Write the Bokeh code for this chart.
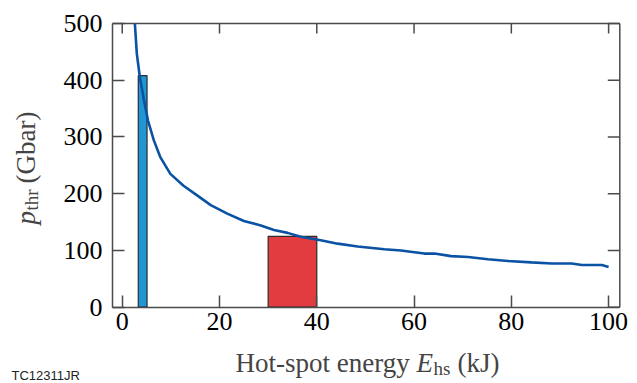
from bokeh.plotting import figure
from bokeh.models import LinearAxis, Range1d, Label, FixedTicker
from bokeh.embed import file_html
from bokeh.resources import INLINE
import math

# ---- data ----
energy_kj = [2.6, 3.0, 3.6, 4.4, 5.3, 6.5, 7.8, 9.9, 12.6, 15.4, 18.2, 21.6, 25.0, 28.5,
             31.2, 34.0, 36.7, 40.8, 44.3, 48.4, 53.9, 57.3, 62.1, 64.2, 67.6, 71.1,
             75.2, 79.3, 84.1, 88.3, 92.4, 94.5, 98.6, 100.0]
p_thr_gbar = [500, 447, 407, 368, 329, 294, 265, 235, 214, 197, 180, 165, 152, 144,
              136, 131, 124, 118, 112, 107, 102, 100, 94.5, 94.5, 90, 88.5,
              84.5, 81.5, 79, 77, 77, 74.5, 74.5, 71]

blue_bar_left, blue_bar_right, blue_bar_top = [3.3], [5.1], [408]
red_bar_left, red_bar_right, red_bar_top = [30.0], [40.0], [125]

x_ticks = [0, 20, 40, 60, 80, 100]
y_ticks = [0, 100, 200, 300, 400, 500]

# ---- layout: the frame fills the canvas, the plot box is drawn by fixed axes ----
W, H = 637, 383
BOX_PX = dict(left=112.0, right=619.3, top=23.0, bottom=306.7)
BOX_X = (-2.0, 102.3)
BOX_Y = (0.0, 500.0)
sx = (BOX_PX["right"] - BOX_PX["left"]) / (BOX_X[1] - BOX_X[0])
sy = (BOX_PX["bottom"] - BOX_PX["top"]) / (BOX_Y[1] - BOX_Y[0])
XR = (BOX_X[0] - BOX_PX["left"] / sx, BOX_X[1] + (W - BOX_PX["right"]) / sx)
YR = (BOX_Y[0] - (H - BOX_PX["bottom"]) / sy, BOX_Y[1] + BOX_PX["top"] / sy)

def dx(px):
    return XR[0] + px / sx

def dy(py):
    return YR[0] + (H - py) / sy

FRAME = "#4a4a4a"
SERIF = "Liberation Serif"
TICK_FS = "26px"

p = figure(width=W, height=H, output_backend="svg", toolbar_location=None,
           x_range=Range1d(*XR), y_range=Range1d(*YR),
           min_border=0, x_axis_location=None, y_axis_location=None)
p.grid.visible = False
p.outline_line_color = None
p.background_fill_color = "white"
p.border_fill_color = "white"

def style_axis(ax, ticks, tick_len):
    ax.ticker = FixedTicker(ticks=ticks)
    ax.major_tick_in = tick_len
    ax.major_tick_out = 0
    ax.minor_tick_line_color = None
    ax.major_tick_line_color = FRAME
    ax.major_tick_line_width = 1.5
    ax.axis_line_color = FRAME
    ax.axis_line_width = 1.5
    ax.major_label_text_font = SERIF
    ax.major_label_text_font_size = TICK_FS
    ax.major_label_text_color = "black"

bottom = LinearAxis(fixed_location=BOX_Y[0], bounds=BOX_X)
style_axis(bottom, x_ticks, 12)
bottom.major_label_standoff = 6
p.add_layout(bottom, "below")

left = LinearAxis(fixed_location=BOX_X[0], bounds=BOX_Y)
style_axis(left, y_ticks, 12)
left.major_label_standoff = 10
p.add_layout(left, "left")

# top and right edges of the box with inward ticks
p.segment(x0=[BOX_X[0]], y0=[BOX_Y[1]], x1=[BOX_X[1]], y1=[BOX_Y[1]],
          line_color=FRAME, line_width=1.5)
p.segment(x0=[BOX_X[1]], y0=[BOX_Y[0]], x1=[BOX_X[1]], y1=[BOX_Y[1]],
          line_color=FRAME, line_width=1.5)
p.segment(x0=x_ticks, y0=[BOX_Y[1]] * len(x_ticks), x1=x_ticks,
          y1=[BOX_Y[1] - 10 / sy] * len(x_ticks), line_color=FRAME, line_width=1.5)
p.segment(x0=[BOX_X[1]] * len(y_ticks), y0=y_ticks, x1=[BOX_X[1] - 12 / sx] * len(y_ticks),
          y1=y_ticks, line_color=FRAME, line_width=1.5)

# bars
p.quad(left=blue_bar_left, right=blue_bar_right, bottom=[0], top=blue_bar_top,
       fill_color="#1f97d4", line_color="#2b2b2b", line_width=1.2)
p.quad(left=red_bar_left, right=red_bar_right, bottom=[0], top=red_bar_top,
       fill_color="#e23b40", line_color="#2b2b2b", line_width=1.2)

# curve
p.line(energy_kj, p_thr_gbar, line_color="#0a52a3", line_width=2.6)

# x-axis label: "Hot-spot energy E_hs (kJ)"
LS = "27px"
SS = "19px"
xb = 362
p.add_layout(Label(x=dx(235), y=dy(xb), text="Hot-spot energy", text_font=SERIF,
                   text_font_size=LS, text_align="left", text_baseline="alphabetic"))
p.add_layout(Label(x=dx(416), y=dy(xb), text="E", text_font=SERIF, text_font_style="italic",
                   text_font_size=LS, text_align="left", text_baseline="alphabetic"))
p.add_layout(Label(x=dx(433), y=dy(xb + 6), text="hs", text_font=SERIF,
                   text_font_size=SS, text_align="left", text_baseline="alphabetic"))
p.add_layout(Label(x=dx(457), y=dy(xb), text="(kJ)", text_font=SERIF,
                   text_font_size=LS, text_align="left", text_baseline="alphabetic"))

# y-axis label: "p_thr (Gbar)" rotated
yb = 25
p.add_layout(Label(x=dx(yb), y=dy(224), text="p", text_font=SERIF, text_font_style="italic",
                   text_font_size=LS, angle=math.pi / 2, text_align="left",
                   text_baseline="alphabetic"))
p.add_layout(Label(x=dx(yb + 6), y=dy(210), text="thr", text_font=SERIF,
                   text_font_size=SS, angle=math.pi / 2, text_align="left",
                   text_baseline="alphabetic"))
p.add_layout(Label(x=dx(yb), y=dy(183), text="(Gbar)", text_font=SERIF,
                   text_font_size=LS, angle=math.pi / 2, text_align="left",
                   text_baseline="alphabetic"))

# figure tag
p.add_layout(Label(x=dx(11), y=dy(375), text="TC12311JR", text_font="Liberation Sans",
                   text_font_size="13px", text_align="left", text_baseline="alphabetic",
                   text_color="#222222"))

open("out.html", "w").write(file_html(p, INLINE))
